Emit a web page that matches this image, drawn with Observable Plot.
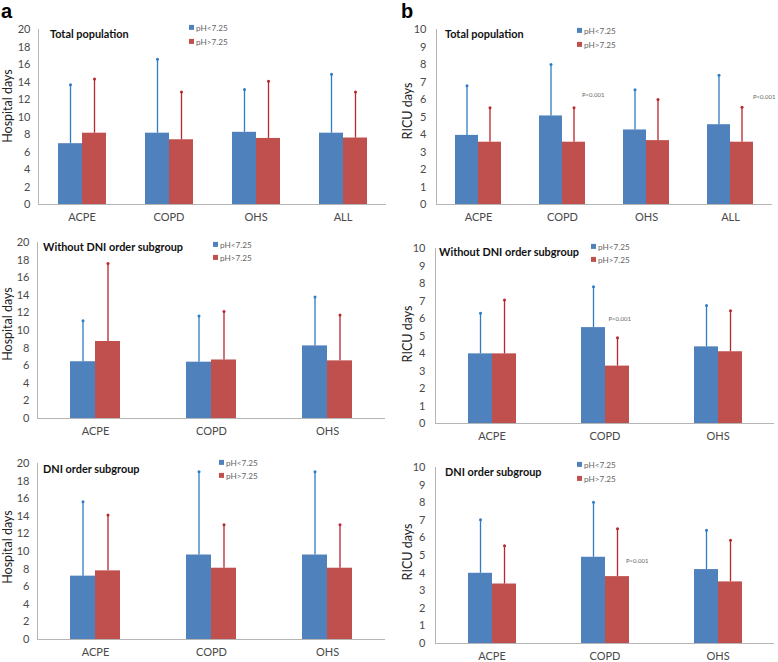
<!DOCTYPE html>
<html><head><meta charset="utf-8">
<script src="https://cdn.jsdelivr.net/npm/d3@7"></script>
<script src="https://cdn.jsdelivr.net/npm/@observablehq/plot@0.6"></script>
<style>
body{margin:0;background:#fff;}
#root{position:relative;width:778px;height:662px;overflow:hidden;font-family:Lato,"Open Sans",sans-serif;}
.panel{position:absolute;}
.ov{position:absolute;white-space:nowrap;line-height:1;}
.title{font-weight:bold;font-size:10.9px;color:#111;transform:translateY(-50%);}
.leg{font-size:8.2px;color:#666;transform:translateY(-50%);}
.leg i{display:inline-block;width:5px;height:5px;margin-right:2px;vertical-align:middle;position:relative;top:-1px;}
.ylab{font-size:12.5px;color:#222;transform:translate(-50%,-50%) rotate(-90deg);}
.letter{font-family:"Liberation Sans",Arial,sans-serif;font-weight:bold;font-size:20px;line-height:1.1;color:#000;}
</style></head><body><div id="root"></div>
<script>
const series = ["pH<7.25", "pH>7.25"];
const cats4 = ["ACPE", "COPD", "OHS", "ALL"];
const cats3 = ["ACPE", "COPD", "OHS"];
const hospTicks = [0, 2, 4, 6, 8, 10, 12, 14, 16, 18, 20];
const ricuTicks = [0, 1, 2, 3, 4, 5, 6, 7, 8, 9, 10];
const pLabel = "P<0.001";

// a: Hospital days
const hospTotalLow = [6.95, 8.15, 8.25, 8.15];
const hospTotalLowErr = [13.7, 16.6, 13.15, 14.9];
const hospTotalHigh = [8.15, 7.4, 7.55, 7.6];
const hospTotalHighErr = [14.35, 12.85, 14.1, 12.85];

const hospNoDniLow = [6.45, 6.4, 8.25];
const hospNoDniLowErr = [11.1, 11.65, 13.8];
const hospNoDniHigh = [8.75, 6.65, 6.55];
const hospNoDniHighErr = [17.6, 12.15, 11.75];

const hospDniLow = [7.2, 9.6, 9.6];
const hospDniLowErr = [15.65, 19.05, 19.05];
const hospDniHigh = [7.8, 8.1, 8.1];
const hospDniHighErr = [14.15, 13.05, 13.05];

// b: RICU days
const ricuTotalLow = [3.95, 5.06, 4.26, 4.56];
const ricuTotalLowErr = [6.79, 8.0, 6.56, 7.39];
const ricuTotalHigh = [3.56, 3.56, 3.65, 3.56];
const ricuTotalHighErr = [5.53, 5.53, 6.0, 5.56];
const ricuTotalPCats = ["COPD", "ALL"];
const ricuTotalPValues = [6.27, 6.14];

const ricuNoDniLow = [3.98, 5.48, 4.38];
const ricuNoDniLowErr = [6.3, 7.82, 6.74];
const ricuNoDniHigh = [3.98, 3.28, 4.1];
const ricuNoDniHighErr = [7.06, 4.9, 6.45];
const ricuNoDniPCats = ["COPD"];
const ricuNoDniPValues = [5.94];

const ricuDniLow = [3.99, 4.9, 4.2];
const ricuDniLowErr = [7.03, 8.02, 6.43];
const ricuDniHigh = [3.38, 3.8, 3.5];
const ricuDniHighErr = [5.55, 6.52, 5.86];
const ricuDniPCats = ["COPD"];
const ricuDniPValues = [4.66];

const barColors = ["#4F81BD", "#C0504D"];
const errColors = ["#2E7CC4", "#B8262E"];
const axisGrey = "#b5b5b5";

const panels = [
  {left:0, top:0, w:390, h:228, mL:36, mR:3, mT:29, mB:24, po:0.756, tp:8,
   cats:cats4, low:hospTotalLow, lowErr:hospTotalLowErr, high:hospTotalHigh, highErr:hospTotalHighErr,
   yMax:20, ticks:hospTicks, yLabel:"Hospital days", title:"Total population",
   tPos:[50,34], lPos:[189,27.5,41.7], yPos:[8,106], pCats:[], pVals:[], pDx:[]},
  {left:390, top:0, w:388, h:228, mL:45, mR:5, mT:29, mB:24, po:0.762, tp:10,
   cats:cats4, low:ricuTotalLow, lowErr:ricuTotalLowErr, high:ricuTotalHigh, highErr:ricuTotalHighErr,
   yMax:10, ticks:ricuTicks, yLabel:"RICU days", title:"Total population",
   tPos:[445,34], lPos:[577,31,45], yPos:[408,111], pCats:ricuTotalPCats, pVals:ricuTotalPValues, pDx:[8,11]},
  {left:0, top:228, w:390, h:214, mL:36, mR:4, mT:14, mB:24, po:1.29, tp:8,
   cats:cats3, low:hospNoDniLow, lowErr:hospNoDniLowErr, high:hospNoDniHigh, highErr:hospNoDniHighErr,
   yMax:20, ticks:hospTicks, yLabel:"Hospital days", title:"Without DNI order subgroup",
   tPos:[43,247], lPos:[213,245,258], yPos:[8,324], pCats:[], pVals:[], pDx:[]},
  {left:390, top:228, w:388, h:214, mL:44, mR:4, mT:20, mB:19, po:1.29, tp:10,
   cats:cats3, low:ricuNoDniLow, lowErr:ricuNoDniLowErr, high:ricuNoDniHigh, highErr:ricuNoDniHighErr,
   yMax:10, ticks:ricuTicks, yLabel:"RICU days", title:"Without DNI order subgroup",
   tPos:[439,252], lPos:[591,246.5,260], yPos:[408,334], pCats:ricuNoDniPCats, pVals:ricuNoDniPValues, pDx:[-9]},
  {left:0, top:442, w:390, h:220, mL:36, mR:4, mT:21, mB:23, po:1.29, tp:8,
   cats:cats3, low:hospDniLow, lowErr:hospDniLowErr, high:hospDniHigh, highErr:hospDniHighErr,
   yMax:20, ticks:hospTicks, yLabel:"Hospital days", title:"DNI order subgroup",
   tPos:[43,469], lPos:[219,463,476], yPos:[8,547], pCats:[], pVals:[], pDx:[]},
  {left:390, top:442, w:388, h:220, mL:44, mR:4, mT:25, mB:19, po:1.29, tp:10,
   cats:cats3, low:ricuDniLow, lowErr:ricuDniLowErr, high:ricuDniHigh, highErr:ricuDniHighErr,
   yMax:10, ticks:ricuTicks, yLabel:"RICU days", title:"DNI order subgroup",
   tPos:[445,472], lPos:[577,465,479], yPos:[408,552], pCats:ricuDniPCats, pVals:ricuDniPValues, pDx:[8.5]}
];

const root = document.getElementById("root");
function addOv(cls, x, y, html) {
  const d = document.createElement("div");
  d.className = "ov " + cls;
  d.style.left = x + "px"; d.style.top = y + "px";
  d.innerHTML = html;
  root.appendChild(d);
  return d;
}

panels.forEach(p => {
  const rows = [];
  p.cats.forEach((c, i) => {
    rows.push({cat:c, series:series[0], mean:p.low[i], upper:p.lowErr[i]});
    rows.push({cat:c, series:series[1], mean:p.high[i], upper:p.highErr[i]});
  });
  const marks = [
    Plot.ruleY([0], {stroke:axisGrey}),
    Plot.frame({anchor:"left", facetAnchor:"left", stroke:axisGrey})
  ];
  series.forEach((s, k) => {
    const d = rows.filter(r => r.series === s);
    marks.push(Plot.barY(d, {fx:"cat", x:"series", y:"mean", fill:barColors[k]}));
    marks.push(Plot.ruleX(d, {fx:"cat", x:"series", y1:"mean", y2:"upper", stroke:errColors[k], strokeWidth:1.3}));
    marks.push(Plot.dot(d, {fx:"cat", x:"series", y:"upper", r:1.5, fill:errColors[k], stroke:"none"}));
  });
  p.pCats.forEach((c, i) => {
    marks.push(Plot.text([{cat:c, y:p.pVals[i]}], {fx:"cat", x:() => series[1], y:"y", text:() => pLabel,
      textAnchor:"start", dx:p.pDx[i], fontSize:6, fill:"#666"}));
  });
  const chart = Plot.plot({
    width:p.w, height:p.h,
    marginLeft:p.mL, marginRight:p.mR, marginTop:p.mT, marginBottom:p.mB,
    style:{fontFamily:"Lato, 'Open Sans', sans-serif", fontSize:"11px", color:"#4a4a4a", background:"transparent", overflow:"visible"},
    fx:{domain:p.cats, padding:0, axis:"bottom", tickSize:0, tickPadding:9, label:null},
    x:{domain:series, paddingInner:0, paddingOuter:p.po, axis:null},
    y:{domain:[0, p.yMax], ticks:p.ticks, tickSize:0, tickPadding:p.tp, label:null},
    marks
  });
  const wrap = document.createElement("div");
  wrap.className = "panel";
  wrap.style.left = p.left + "px"; wrap.style.top = p.top + "px";
  wrap.appendChild(chart);
  root.appendChild(wrap);

  addOv("title", p.tPos[0], p.tPos[1], p.title);
  addOv("leg", p.lPos[0], p.lPos[1], `<i style="background:${barColors[0]}"></i>${series[0]}`);
  addOv("leg", p.lPos[0], p.lPos[2], `<i style="background:${barColors[1]}"></i>${series[1]}`);
  addOv("ylab", p.yPos[0], p.yPos[1], p.yLabel);
});
addOv("letter", 1, 0, "a");
addOv("letter", 401, 0, "b");
</script>
</body></html>
